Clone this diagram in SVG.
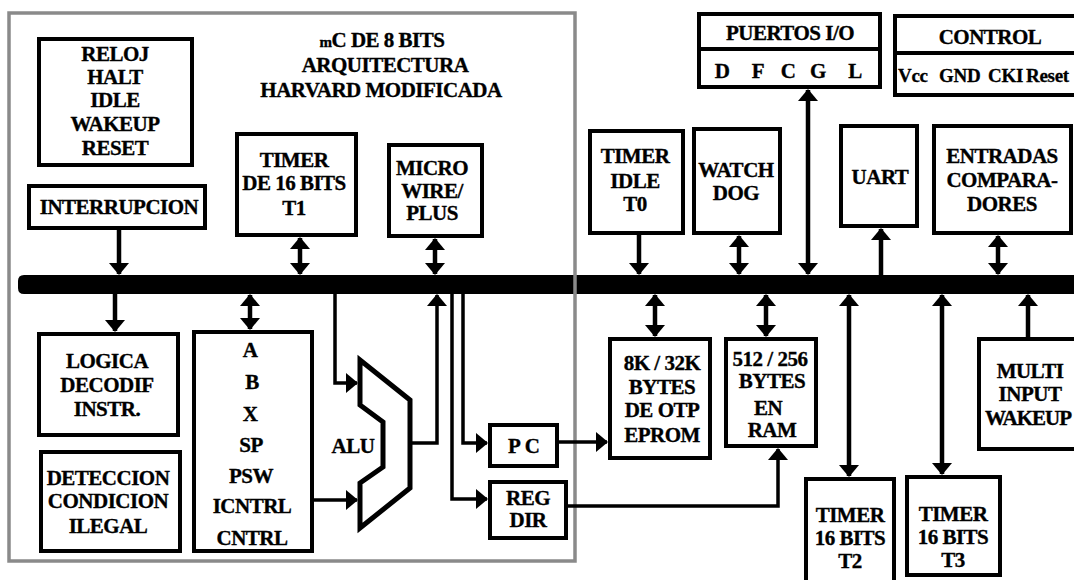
<svg xmlns="http://www.w3.org/2000/svg" width="1074" height="580" viewBox="0 0 1074 580">
  <style>
    .box { fill: #fff; stroke: #000; stroke-width: 4; }
    .lbl { font-family: "Liberation Serif", "Times New Roman", serif; font-weight: bold; font-size: 21px; letter-spacing: -0.5px; fill: #000; stroke: #000; stroke-width: 0.35; text-anchor: middle; }
    .pin { font-family: "Liberation Serif", "Times New Roman", serif; font-weight: bold; font-size: 19px; letter-spacing: -0.3px; fill: #000; stroke: #000; stroke-width: 0.3; }
    .wire { fill: none; stroke: #000; stroke-width: 4.5; }
    .thin { fill: none; stroke: #000; stroke-width: 3.5; }
    .ah { marker-end: url(#ah); }
    .dh { marker-start: url(#ah); marker-end: url(#ah); }
  </style>
  <defs>
    <marker id="ah" viewBox="0 0 12 20" refX="11" refY="10" markerWidth="12" markerHeight="20" markerUnits="userSpaceOnUse" orient="auto-start-reverse">
      <path d="M0,0 L12,10 L0,20 z" fill="#000"/>
    </marker>
  </defs>

  <rect width="1074" height="580" fill="#fff"/>

  <!-- internal data bus -->
  <path id="bus" d="M24,275 H1074 V294 H24 Q18,294 18,288 V281 Q18,275 24,275 z" fill="#000"/>

  <!-- CPU core outline -->
  <rect id="core" x="9" y="13" width="566" height="548" fill="none" stroke="#8a8a8a" stroke-width="3.5"/>

  <g id="title">
    <text class="lbl" x="382" y="47"><tspan font-size="15">m</tspan>C DE 8 BITS</text>
    <text class="lbl" x="385" y="72">ARQUITECTURA</text>
    <text class="lbl" x="381" y="97">HARVARD MODIFICADA</text>
  </g>

  <g id="connectors">
    <!-- core side -->
    <line class="wire ah" x1="119" y1="230" x2="119" y2="274"/>
    <line class="wire ah" x1="115" y1="294" x2="115" y2="331"/>
    <line class="wire dh" x1="300" y1="238" x2="300" y2="274"/>
    <line class="wire dh" x1="435" y1="239" x2="435" y2="274"/>
    <line class="wire dh" x1="250" y1="295" x2="250" y2="329"/>
    <path class="thin ah" d="M335,294 V383 H357"/>
    <path class="thin ah" d="M314,500 H357"/>
    <path class="thin ah" d="M410,443 H437 V295"/>
    <path class="thin ah" d="M463,294 V443 H487"/>
    <path class="thin ah" d="M452,294 V499 H487"/>
    <path class="thin ah" d="M555,442 H607"/>
    <path class="thin ah" d="M563,506 H778 V449"/>
    <!-- peripherals above the bus -->
    <line class="wire ah" x1="639" y1="234" x2="639" y2="274"/>
    <line class="wire dh" x1="739" y1="236" x2="739" y2="274"/>
    <line class="wire dh" x1="808" y1="90" x2="808" y2="274"/>
    <line class="wire ah" x1="881" y1="275" x2="881" y2="229"/>
    <line class="wire dh" x1="998" y1="236" x2="998" y2="274"/>
    <!-- peripherals below the bus -->
    <line class="wire dh" x1="655" y1="295" x2="655" y2="336"/>
    <line class="wire dh" x1="766" y1="295" x2="766" y2="336"/>
    <line class="wire dh" x1="849" y1="295" x2="849" y2="476"/>
    <line class="wire dh" x1="942" y1="295" x2="942" y2="474"/>
    <line class="wire ah" x1="1028" y1="337" x2="1028" y2="295"/>
  </g>

  <g id="reloj">
    <rect class="box" x="39" y="39" width="153" height="126"/>
    <text class="lbl" x="115" y="61">RELOJ</text>
    <text class="lbl" x="115" y="84">HALT</text>
    <text class="lbl" x="115" y="107">IDLE</text>
    <text class="lbl" x="115" y="131">WAKEUP</text>
    <text class="lbl" x="115" y="155">RESET</text>
  </g>

  <g id="interrupcion">
    <rect class="box" x="29" y="186" width="176" height="42"/>
    <text class="lbl" x="119" y="214">INTERRUPCION</text>
  </g>

  <g id="timer-t1">
    <rect class="box" x="237" y="134" width="119" height="101"/>
    <text class="lbl" x="294" y="167">TIMER</text>
    <text class="lbl" x="294" y="190">DE 16 BITS</text>
    <text class="lbl" x="294" y="215">T1</text>
  </g>

  <g id="microwire">
    <rect class="box" x="389" y="145" width="93" height="91"/>
    <text class="lbl" x="432" y="175">MICRO</text>
    <text class="lbl" x="432" y="198">WIRE/</text>
    <text class="lbl" x="432" y="220">PLUS</text>
  </g>

  <g id="logica">
    <rect class="box" x="39" y="334" width="139" height="101"/>
    <text class="lbl" x="107" y="368">LOGICA</text>
    <text class="lbl" x="107" y="392">DECODIF</text>
    <text class="lbl" x="107" y="416">INSTR.</text>
  </g>

  <g id="deteccion">
    <rect class="box" x="41" y="452" width="139" height="99"/>
    <text class="lbl" x="108" y="485">DETECCION</text>
    <text class="lbl" x="108" y="508">CONDICION</text>
    <text class="lbl" x="108" y="533">ILEGAL</text>
  </g>

  <g id="registros">
    <rect class="box" x="194" y="332" width="118" height="219"/>
    <text class="lbl" x="250" y="357">A</text>
    <text class="lbl" x="252" y="389">B</text>
    <text class="lbl" x="250" y="421">X</text>
    <text class="lbl" x="251" y="452">SP</text>
    <text class="lbl" x="251" y="483">PSW</text>
    <text class="lbl" x="252" y="513">ICNTRL</text>
    <text class="lbl" x="252" y="545">CNTRL</text>
  </g>

  <g id="alu">
    <polygon points="360,360 410,400 410,488 360,528 360,483 383,467 383,422 360,405" fill="none" stroke="#000" stroke-width="5"/>
    <text class="lbl" x="353" y="453">ALU</text>
  </g>

  <g id="pc">
    <rect class="box" x="490" y="425" width="67" height="41"/>
    <text class="lbl" x="526" y="453" style="letter-spacing: 4px">PC</text>
  </g>

  <g id="reg-dir">
    <rect class="box" x="490" y="482" width="76" height="56"/>
    <text class="lbl" x="528" y="505">REG</text>
    <text class="lbl" x="528" y="527">DIR</text>
  </g>

  <g id="puertos">
    <rect class="box" x="699" y="14" width="181" height="73"/>
    <line x1="699" y1="49" x2="880" y2="49" stroke="#000" stroke-width="4"/>
    <text class="lbl" x="790" y="40">PUERTOS I/O</text>
    <text class="lbl" x="722" y="78">D</text>
    <text class="lbl" x="758" y="78">F</text>
    <text class="lbl" x="788" y="78">C</text>
    <text class="lbl" x="818" y="78">G</text>
    <text class="lbl" x="855" y="78">L</text>
  </g>

  <g id="control">
    <rect class="box" x="895" y="16" width="185" height="79"/>
    <line x1="895" y1="53" x2="1080" y2="53" stroke="#000" stroke-width="4"/>
    <text class="lbl" x="990" y="44">CONTROL</text>
    <text class="pin" x="898" y="82">Vcc</text>
    <text class="pin" x="939" y="82">GND</text>
    <text class="pin" x="988" y="82">CKI</text>
    <text class="pin" x="1026" y="82">Reset</text>
  </g>

  <g id="timer-t0">
    <rect class="box" x="590" y="131" width="93" height="102"/>
    <text class="lbl" x="635" y="163">TIMER</text>
    <text class="lbl" x="635" y="188">IDLE</text>
    <text class="lbl" x="635" y="211">T0</text>
  </g>

  <g id="watchdog">
    <rect class="box" x="694" y="129" width="86" height="104"/>
    <text class="lbl" x="736" y="177">WATCH</text>
    <text class="lbl" x="736" y="200">DOG</text>
  </g>

  <g id="uart">
    <rect class="box" x="841" y="126" width="76" height="100"/>
    <text class="lbl" x="880" y="184">UART</text>
  </g>

  <g id="entradas">
    <rect class="box" x="934" y="126" width="137" height="107"/>
    <text class="lbl" x="1002" y="163">ENTRADAS</text>
    <text class="lbl" x="1002" y="187">COMPARA-</text>
    <text class="lbl" x="1002" y="211">DORES</text>
  </g>

  <g id="eprom">
    <rect class="box" x="610" y="339" width="100" height="119"/>
    <text class="lbl" x="662" y="370">8K / 32K</text>
    <text class="lbl" x="662" y="394">BYTES</text>
    <text class="lbl" x="662" y="417">DE OTP</text>
    <text class="lbl" x="662" y="442">EPROM</text>
  </g>

  <g id="ram">
    <rect class="box" x="726" y="339" width="90" height="107"/>
    <text class="lbl" x="770" y="366">512 / 256</text>
    <text class="lbl" x="772" y="388">BYTES</text>
    <text class="lbl" x="768" y="415">EN</text>
    <text class="lbl" x="772" y="437">RAM</text>
  </g>

  <g id="timer-t2">
    <rect class="box" x="806" y="479" width="88" height="115"/>
    <text class="lbl" x="850" y="522">TIMER</text>
    <text class="lbl" x="850" y="545">16 BITS</text>
    <text class="lbl" x="850" y="568">T2</text>
  </g>

  <g id="timer-t3">
    <rect class="box" x="907" y="477" width="93" height="98"/>
    <text class="lbl" x="953" y="521">TIMER</text>
    <text class="lbl" x="953" y="544">16 BITS</text>
    <text class="lbl" x="953" y="567">T3</text>
  </g>

  <g id="multi-wakeup">
    <rect class="box" x="979" y="339" width="105" height="110"/>
    <text class="lbl" x="1030" y="378">MULTI</text>
    <text class="lbl" x="1030" y="401">INPUT</text>
    <text class="lbl" x="1028" y="425" style="letter-spacing: -1px">WAKEUP</text>
  </g>
</svg>
